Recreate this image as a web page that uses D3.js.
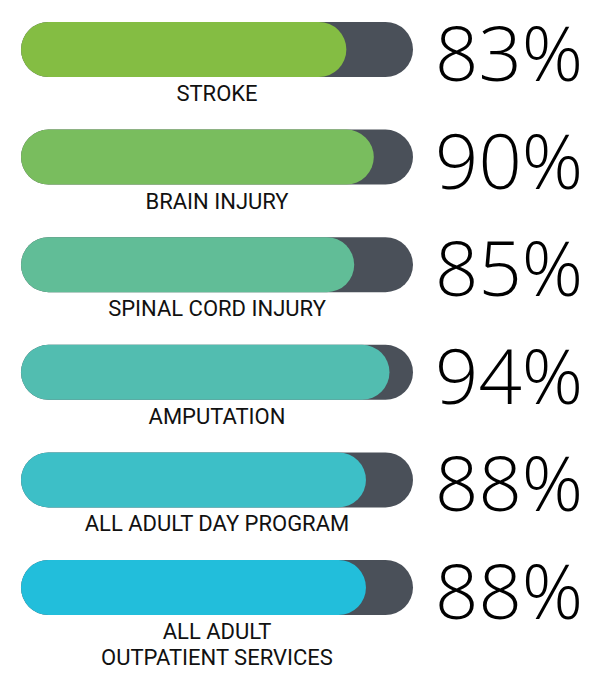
<!DOCTYPE html>
<meta charset="utf-8">
<style>
body { margin: 0; background: #fff; }
.label { font-family: "Liberation Sans Narrow", "Roboto", sans-serif; font-size: 22px; fill: #111; }
.pct { font-family: "Open Sans", "Lato", sans-serif; font-weight: 300; font-size: 76px; fill: #000; }
</style>
<body>
<script src="https://d3js.org/d3.v7.min.js"></script>
<script>
// data
var categories = ["STROKE", "BRAIN INJURY", "SPINAL CORD INJURY", "AMPUTATION", "ALL ADULT DAY PROGRAM", "ALL ADULT\nOUTPATIENT SERVICES"];
var values = [83, 90, 85, 94, 88, 88];
var palette = ["#84bd43", "#79bd5e", "#61bd97", "#52bdb0", "#3dbfc7", "#22bedb"];

var width = 606, height = 674;
var barH = 55;

var svg = d3.select("body").append("svg")
    .attr("width", width)
    .attr("height", height);

var x = d3.scaleLinear().domain([0, 100]).range([21, 413]);
var y = d3.scalePoint().domain(categories).range([22, 560]);

var rows = svg.selectAll("g.row")
    .data(categories)
  .enter().append("g")
    .attr("class", "row")
    .attr("transform", function(d) { return "translate(0," + y(d) + ")"; });

// dark track
rows.append("rect")
    .attr("x", x(0))
    .attr("width", x(100) - x(0))
    .attr("height", barH)
    .attr("rx", barH / 2)
    .attr("fill", "#4a5059");

// coloured fill
rows.append("rect")
    .attr("x", x(0))
    .attr("width", function(d, i) { return x(values[i]) - x(0); })
    .attr("height", barH)
    .attr("rx", barH / 2)
    .attr("fill", function(d, i) { return palette[i]; });

// percentage
rows.append("text")
    .attr("class", "pct")
    .attr("x", x(100) + 22)
    .attr("y", barH + 4)
    .text(function(d, i) { return values[i] + "%"; });

// category label (may wrap to two lines)
rows.append("text")
    .attr("class", "label")
    .attr("text-anchor", "middle")
    .attr("x", (x(0) + x(100)) / 2)
    .attr("y", barH + 24)
    .selectAll("tspan")
    .data(function(d) { return d.split("\n"); })
  .enter().append("tspan")
    .attr("x", (x(0) + x(100)) / 2)
    .attr("dy", function(d, i) { return i ? 26 : 0; })
    .text(function(d) { return d; });
</script>
</body>
